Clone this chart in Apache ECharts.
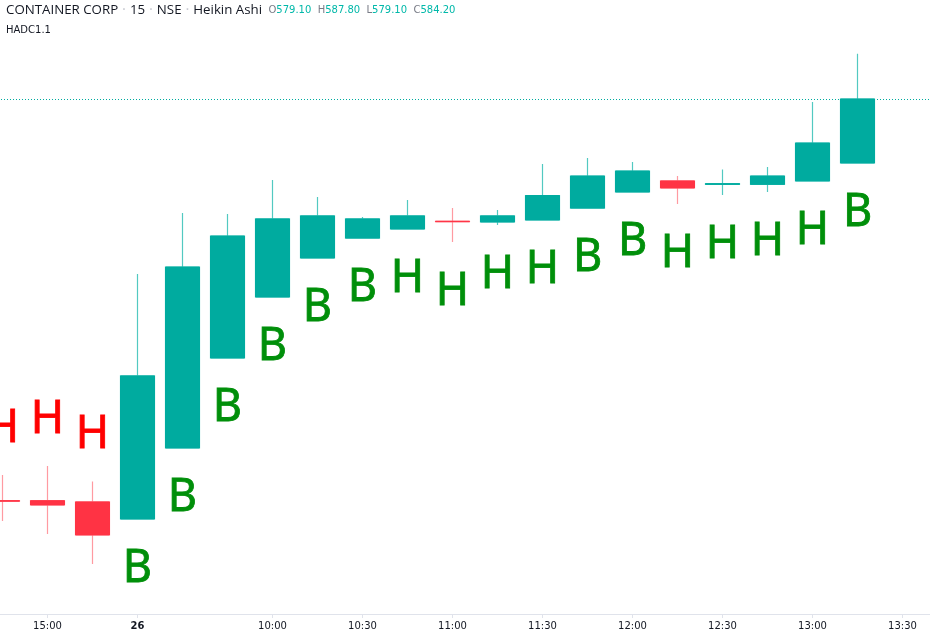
<!DOCTYPE html>
<html>
<head>
<meta charset="utf-8">
<style>html,body{margin:0;padding:0;background:#fff}#c{width:930px;height:630px}</style>
<script src="https://cdn.jsdelivr.net/npm/echarts@6/dist/echarts.min.js"></script>
</head>
<body>
<div id="c"></div>
<script>
const categories = ['14:45','15:00','15:15','26','09:30','09:45','10:00','10:15','10:30','10:45','11:00','11:15','11:30','11:45','12:00','12:15','12:30','12:45','13:00','13:15','13:30','13:45'];
const tickLabels = ['15:00','26','10:00','10:30','11:00','11:30','12:00','12:30','13:00','13:30'];
const opens  = [552.19,552.19,552.09,550.73,556.39,563.56,568.42,571.53,573.12,573.84,574.46,574.40,574.56,575.51,576.79,577.67,577.40,577.40,577.67,579.10];
const closes = [552.15,551.85,549.46,562.13,570.81,573.28,574.64,574.88,574.64,574.88,574.42,574.88,576.51,578.06,578.46,577.11,577.45,578.06,580.69,584.20];
const lows   = [550.57,549.54,547.15,550.73,556.39,563.56,568.42,571.53,573.12,573.84,572.81,574.16,574.56,575.51,576.79,575.83,576.55,576.79,577.67,579.10];
const highs  = [554.24,554.96,553.72,570.26,575.12,575.04,577.75,576.39,574.80,576.15,575.51,575.36,579.02,579.50,579.18,578.06,578.58,578.78,583.96,587.80];
const signals = ['H','H','H','B','B','B','B','B','B','H','H','H','H','B','B','H','H','H','H','B'];
const sides   = ['sell','sell','sell','buy','buy','buy','buy','buy','buy','buy','buy','buy','buy','buy','buy','buy','buy','buy','buy','buy'];
const lastPrice = 584.20;
const ohlc = {O:'579.10',H:'587.80',L:'579.10',C:'584.20'};

const TEAL='#00ab9f', TEAL_W='#52c9c1', RED='#ff3344', RED_W='#ff9aa1';
const wicks = opens.map((o,i)=>[o,closes[i],lows[i],highs[i]]);
const bodies = opens.map((o,i)=>[o,closes[i],Math.min(o,closes[i]),Math.max(o,closes[i])]);
const sellMarks=[], buyMarks=[];
signals.forEach((s,i)=>{
  if(sides[i]==='sell') sellMarks.push({value:[i,highs[i]],name:s});
  else buyMarks.push({value:[i,lows[i]],name:s});
});
const shown = new Set(tickLabels);
const letterSeries=(data,color,offset)=>({
  type:'scatter',data,symbolSize:1,itemStyle:{color:'transparent',opacity:1},silent:true,z:5,clip:false,
  label:{show:true,position:'inside',offset:[0,offset],formatter:p=>p.name,color,opacity:1,
    fontFamily:'"Noto Sans",sans-serif',fontSize:45,fontWeight:'normal',textBorderColor:color,textBorderWidth:0.8}
});
const chart=echarts.init(document.getElementById('c'),null,{renderer:'canvas'});
chart.setOption({
  animation:false,
  backgroundColor:'#fff',
  title:{
    left:6,top:1,padding:0,
    text:`{n|CONTAINER CORP}{d| · }{n|15}{d| · }{n|NSE}{d| · }{n|Heikin Ashi}{g|  O}{v|${ohlc.O}}{g|  H}{v|${ohlc.H}}{g|  L}{v|${ohlc.L}}{g|  C}{v|${ohlc.C}}\n{s|HADC1.1}`,
    textStyle:{fontWeight:'normal',rich:{
      n:{fontFamily:'"Open Sans",sans-serif',fontSize:13.3,fontWeight:'normal',color:'#131722',height:18,lineHeight:18},
      d:{fontFamily:'"Open Sans",sans-serif',fontSize:15,fontWeight:'normal',color:'#c8cad1',lineHeight:18},
      g:{fontFamily:'"DejaVu Sans",sans-serif',fontSize:10,fontWeight:'normal',color:'#787b86',lineHeight:18},
      v:{fontFamily:'"DejaVu Sans",sans-serif',fontSize:10,fontWeight:'normal',color:'#00b8a9',lineHeight:18},
      s:{fontFamily:'"DejaVu Sans",sans-serif',fontSize:10,fontWeight:'normal',color:'#131722',height:20,lineHeight:22}
    }}
  },
  grid:{left:-20,top:0,width:990,height:614,outerBoundsMode:'none'},
  xAxis:{
    type:'category',data:categories,boundaryGap:true,
    axisLine:{lineStyle:{color:'#e0e3eb',width:1}},
    axisTick:{show:true,alignWithLabel:true,length:4,lineStyle:{color:'#e0e3eb'},interval:(i,v)=>shown.has(v)},
    axisLabel:{interval:(i,v)=>shown.has(v),margin:7,fontSize:10,color:'#131722',fontFamily:'"DejaVu Sans",sans-serif',
      formatter:v=>v==='26'?`{b|${v}}`:v,
      rich:{b:{fontWeight:'bold',fontSize:10,color:'#131722',fontFamily:'"DejaVu Sans",sans-serif'}}},
    splitLine:{show:false}
  },
  yAxis:{type:'value',show:false,min:543.16,max:592.09,splitLine:{show:false}},
  series:[
    {type:'candlestick',data:wicks,barWidth:34,z:2,silent:true,
      itemStyle:{color:'transparent',color0:'transparent',borderColor:TEAL_W,borderColor0:RED_W,borderWidth:1.2},
      markLine:{silent:true,symbol:'none',label:{show:false},z:1,
        lineStyle:{color:TEAL,type:[1,2],width:1,opacity:1},data:[{yAxis:lastPrice}]}},
    {type:'candlestick',data:bodies,barWidth:34,z:3,silent:true,
      itemStyle:{color:TEAL,color0:RED,borderColor:TEAL,borderColor0:RED,borderWidth:1,borderJoin:'miter'}},
    letterSeries(sellMarks,'#ff0000',-46),
    letterSeries(buyMarks,'#008f0a',50)
  ]
});
</script>
</body>
</html>
